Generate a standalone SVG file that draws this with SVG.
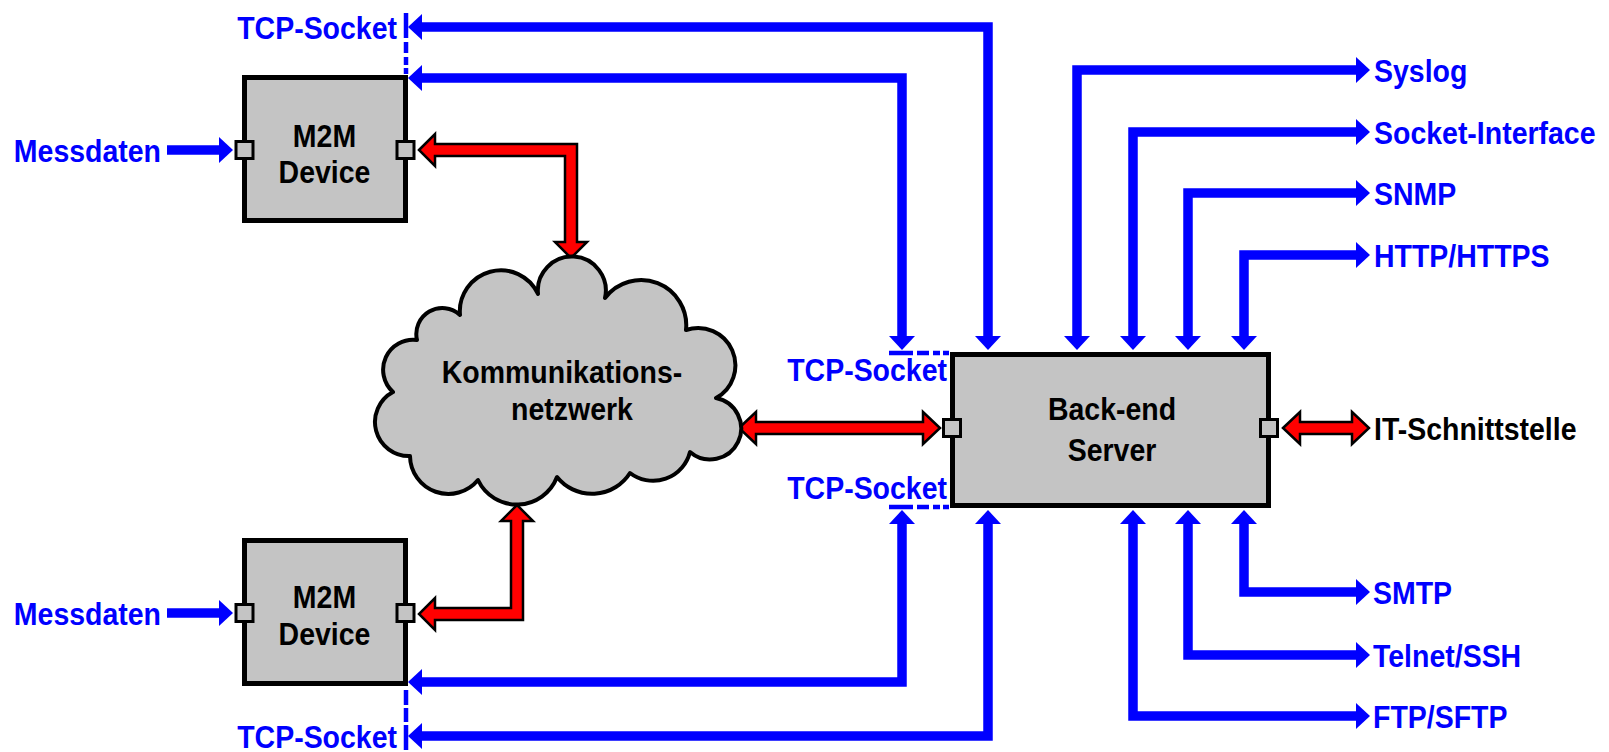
<svg xmlns="http://www.w3.org/2000/svg" width="1609" height="752" viewBox="0 0 1609 752">
<style>
.t{font-family:"Liberation Sans",Arial,sans-serif;font-weight:bold;font-size:32px}
.b{fill:#0000ff}
.k{fill:#000}
.box{fill:#c4c4c4;stroke:#000;stroke-width:5}
.port{fill:#c4c4c4;stroke:#000;stroke-width:3}
.bl{fill:none;stroke:#0000ff;stroke-width:9.5;stroke-linejoin:miter}
.bi{marker-start:url(#ah);marker-end:url(#ah)}
.uni{marker-end:url(#ah)}
.red{fill:#ff0000;stroke:#000;stroke-width:2.5;stroke-linejoin:miter}
.dash{fill:none;stroke:#0000ff;stroke-width:4.5}
</style>
<defs>
<marker id="ah" markerUnits="userSpaceOnUse" viewBox="0 0 14 26" markerWidth="14" markerHeight="26" refX="1" refY="13" orient="auto-start-reverse" overflow="visible">
<path d="M0,0 L14,13 L0,26 Z" fill="#0000ff"/>
</marker>
</defs>
<rect width="1609" height="752" fill="#fff"/>

<g id="connectors">
<path class="bl bi" d="M421,27 H988 V337"/>
<path class="bl bi" d="M421,78 H902 V337"/>
<path class="bl bi" d="M421,682 H902 V523"/>
<path class="bl bi" d="M421,736 H988 V523"/>
<path class="bl uni" d="M167,150 H220"/>
<path class="bl uni" d="M167,613 H220"/>
<path class="bl bi" d="M1077,337 V70 H1357"/>
<path class="bl bi" d="M1133,337 V132 H1357"/>
<path class="bl bi" d="M1188,337 V193 H1357"/>
<path class="bl bi" d="M1244,337 V255 H1357"/>
<path class="bl bi" d="M1244,523 V592 H1357"/>
<path class="bl bi" d="M1188,523 V655 H1357"/>
<path class="bl bi" d="M1133,523 V716 H1357"/>
<path class="dash" d="M406,13 V76" stroke-dasharray="25 4 11 4 8 3 6"/>
<path class="dash" d="M406,750 V687" stroke-dasharray="25 3 14 3 15"/>
<path class="dash" d="M889,353 H950" stroke-dasharray="24 4 12 4 7 3 6"/>
<path class="dash" d="M889,507 H950" stroke-dasharray="24 4 12 4 7 3 6"/>
<polygon class="red" points="419,150 435,134 435,144 577,144 577,242 587,242 571,258 555,242 565,242 565,156 435,156 435,166"/>
<polygon class="red" points="517,505 533,521 523,521 523,620 435,620 435,630 419,614 435,598 435,608 511,608 511,521 501,521"/>
<polygon class="red" points="739,428 756,412 756,422 923,422 923,412 940,428 923,444 923,434 756,434 756,444"/>
<polygon class="red" points="1283,428 1300,412 1300,422 1352,422 1352,412 1369,428 1352,444 1352,434 1300,434 1300,444"/>
</g>

<g id="m2m-top">
<rect class="box" x="244.5" y="77.5" width="161" height="143"/>
<rect class="port" x="236" y="141.5" width="17" height="17"/>
<rect class="port" x="397" y="141.5" width="17" height="17"/>
<text class="t k" text-anchor="middle" transform="translate(324.5,147) scale(0.89,1)">M2M</text>
<text class="t k" text-anchor="middle" transform="translate(324.5,183) scale(0.89,1)">Device</text>
</g>

<g id="m2m-bottom">
<rect class="box" x="244.5" y="540.5" width="161" height="143"/>
<rect class="port" x="236" y="604.5" width="17" height="17"/>
<rect class="port" x="397" y="604.5" width="17" height="17"/>
<text class="t k" text-anchor="middle" transform="translate(324.5,608) scale(0.89,1)">M2M</text>
<text class="t k" text-anchor="middle" transform="translate(324.5,645) scale(0.89,1)">Device</text>
</g>

<g id="cloud">
<path fill="#c4c4c4" stroke="#000" stroke-width="4" stroke-linejoin="round" d="M538,294 A34,34 0 1 1 605,298 A45.2,45.2 0 0 1 686,330 A37.3,37.3 0 0 1 716,398 A31,31 0 1 1 690,452 A38,38 0 0 1 630,473 A45,45 0 0 1 557,477 A43,43 0 0 1 478,480 A38.4,38.4 0 0 1 410,456 A34,34 0 0 1 393,392 A30,30 0 0 1 417,340 A26,26 0 0 1 460,315 A41,41 0 0 1 538,294 Z"/>
<text class="t k" text-anchor="middle" transform="translate(562,383) scale(0.89,1)">Kommunikations-</text>
<text class="t k" text-anchor="middle" transform="translate(572,420) scale(0.89,1)">netzwerk</text>
</g>

<g id="server">
<rect class="box" x="952.5" y="354.5" width="316" height="151"/>
<rect class="port" x="943.5" y="419.5" width="17" height="17"/>
<rect class="port" x="1260.5" y="419.5" width="17" height="17"/>
<text class="t k" text-anchor="middle" transform="translate(1112,420) scale(0.89,1)">Back-end</text>
<text class="t k" text-anchor="middle" transform="translate(1112,461) scale(0.89,1)">Server</text>
</g>

<g id="labels">
<text class="t b" text-anchor="end" transform="translate(397,39) scale(0.89,1)">TCP-Socket</text>
<text class="t b" text-anchor="end" transform="translate(397,748) scale(0.89,1)">TCP-Socket</text>
<text class="t b" text-anchor="end" transform="translate(947,381) scale(0.89,1)">TCP-Socket</text>
<text class="t b" text-anchor="end" transform="translate(947,499) scale(0.89,1)">TCP-Socket</text>
<text class="t b" text-anchor="end" transform="translate(161,162) scale(0.89,1)">Messdaten</text>
<text class="t b" text-anchor="end" transform="translate(161,625) scale(0.89,1)">Messdaten</text>
<text class="t b" transform="translate(1374,82) scale(0.89,1)">Syslog</text>
<text class="t b" transform="translate(1374,144) scale(0.89,1)">Socket-Interface</text>
<text class="t b" transform="translate(1374,205) scale(0.89,1)">SNMP</text>
<text class="t b" transform="translate(1374,267) scale(0.89,1)">HTTP/HTTPS</text>
<text class="t k" transform="translate(1374,440) scale(0.89,1)">IT-Schnittstelle</text>
<text class="t b" transform="translate(1373,604) scale(0.89,1)">SMTP</text>
<text class="t b" transform="translate(1373,667) scale(0.89,1)">Telnet/SSH</text>
<text class="t b" transform="translate(1373,728) scale(0.89,1)">FTP/SFTP</text>
</g>
</svg>
